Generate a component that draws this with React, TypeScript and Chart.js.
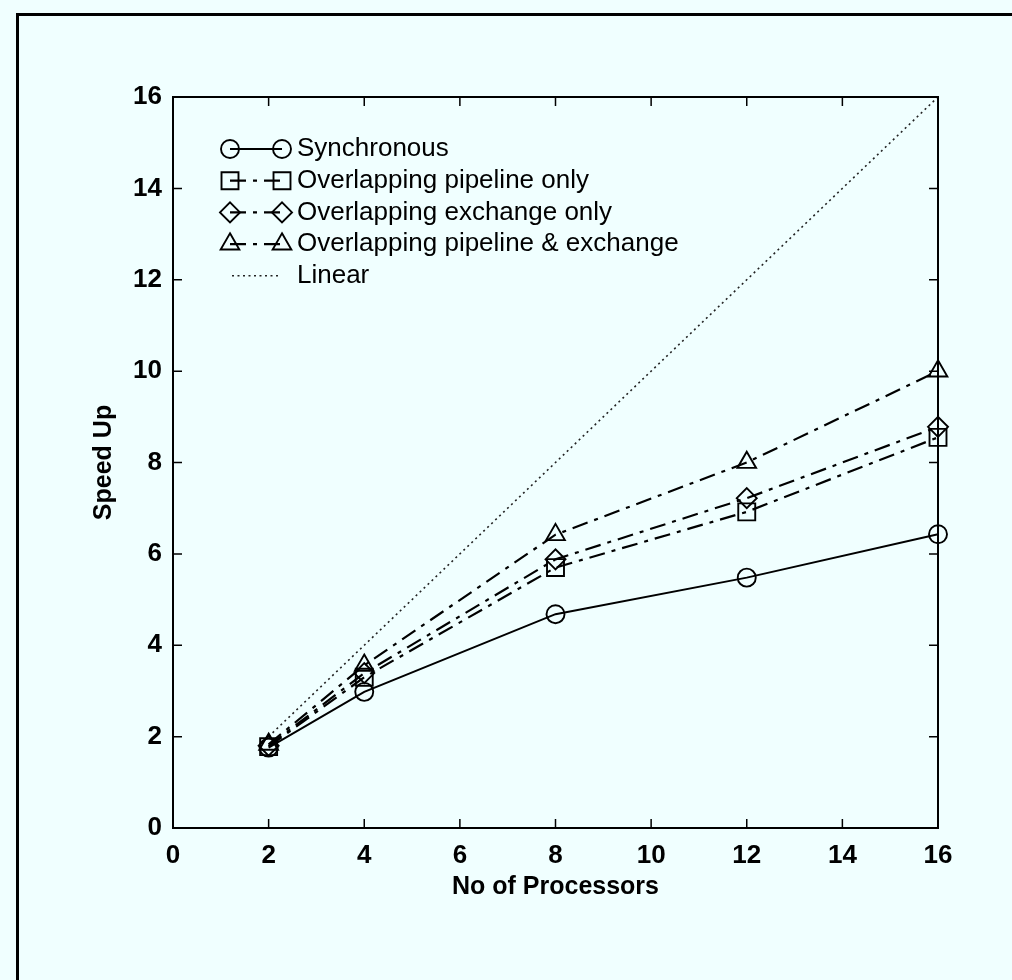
import React, { useEffect, useRef } from 'react';
import { Chart, registerables } from 'chart.js';
import { drawPoint } from 'chart.js/helpers';

Chart.register(...registerables);

// Number of processors used in each run
const processors = [2, 4, 8, 12, 16];

// Measured speed-up for each scheme
const synchronous = [1.76, 2.98, 4.68, 5.48, 6.43];
const pipelineOnly = [1.78, 3.3, 5.7, 6.92, 8.55];
const exchangeOnly = [1.8, 3.39, 5.88, 7.22, 8.78];
const pipelineAndExchange = [1.83, 3.56, 6.42, 8.0, 10.0];
const linearSpeedUp = [2, 4, 8, 12, 16];

const seriesLabels = [
  'Synchronous',
  'Overlapping pipeline only',
  'Overlapping exchange only',
  'Overlapping pipeline & exchange',
  'Linear',
];

const axisTicks = [0, 2, 4, 6, 8, 10, 12, 14, 16];
const xTitle = 'No of Processors';
const yTitle = 'Speed Up';

const BG = '#F0FFFF';
const INK = '#000000';
const FONT = '"Liberation Sans", Arial, Helvetica, sans-serif';
const DASH_DOT = [16, 7, 4, 7];
const CLEAR = 'rgba(0,0,0,0)';

const toPoints = (ys: number[]) => processors.map((x, i) => ({ x, y: ys[i] }));

// Page frame, plot box and inward tick marks on all four sides, axis titles
const framePlugin = {
  id: 'frameAndTicks',
  beforeDraw(chart: any) {
    const { ctx, width, height } = chart;
    ctx.save();
    ctx.fillStyle = BG;
    ctx.fillRect(0, 0, width, height);
    ctx.fillStyle = INK;
    ctx.fillRect(16, 13, width - 16, 3);
    ctx.fillRect(16, 13, 3, height - 13);
    ctx.restore();
  },
  afterDraw(chart: any) {
    const { ctx, chartArea: a, scales } = chart;
    ctx.save();
    ctx.strokeStyle = INK;
    ctx.lineWidth = 2;
    ctx.strokeRect(a.left, a.top, a.right - a.left, a.bottom - a.top);
    ctx.lineWidth = 1.5;
    const len = 9;
    ctx.beginPath();
    axisTicks.forEach((v) => {
      if (v === axisTicks[0] || v === axisTicks[axisTicks.length - 1]) return;
      const px = scales.x.getPixelForValue(v);
      ctx.moveTo(px, a.bottom);
      ctx.lineTo(px, a.bottom - len);
      ctx.moveTo(px, a.top);
      ctx.lineTo(px, a.top + len);
      const py = scales.y.getPixelForValue(v);
      ctx.moveTo(a.left, py);
      ctx.lineTo(a.left + len, py);
      ctx.moveTo(a.right, py);
      ctx.lineTo(a.right - len, py);
    });
    ctx.stroke();

    ctx.fillStyle = INK;
    ctx.font = `bold 25px ${FONT}`;
    ctx.textAlign = 'center';
    ctx.textBaseline = 'middle';
    ctx.fillText(xTitle, (a.left + a.right) / 2, a.bottom + 59);
    ctx.translate(a.left - 69, (a.top + a.bottom) / 2);
    ctx.rotate(-Math.PI / 2);
    ctx.fillText(yTitle, 0, 0);
    ctx.restore();
  },
};

// Key in the upper-left corner of the plot: marker, line, marker, label
const keyPlugin = {
  id: 'seriesKey',
  afterDatasetsDraw(chart: any) {
    const { ctx, chartArea: a } = chart;
    const x1 = a.left + 57;
    const x2 = a.left + 109;
    const tx = a.left + 124;
    chart.data.datasets.forEach((ds: any, i: number) => {
      const y = a.top + 52 + i * 31.7;
      ctx.save();
      ctx.strokeStyle = ds.borderColor;
      ctx.lineWidth = ds.borderWidth;
      ctx.setLineDash(ds.borderDash || []);
      ctx.beginPath();
      if (ds.pointRadius > 0) {
        ctx.moveTo(x1, y);
        ctx.lineTo(x2, y);
      } else {
        ctx.moveTo(x1 + 2, y);
        ctx.lineTo(x2 - 4, y);
      }
      ctx.stroke();
      ctx.setLineDash([]);
      if (ds.pointRadius > 0) {
        ctx.fillStyle = CLEAR;
        ctx.strokeStyle = INK;
        ctx.lineWidth = ds.pointBorderWidth;
        const opts = {
          pointStyle: ds.pointStyle,
          radius: ds.pointRadius,
          borderWidth: ds.pointBorderWidth,
          rotation: 0,
        };
        drawPoint(ctx, opts as any, x1, y);
        drawPoint(ctx, opts as any, x2, y);
      }
      ctx.fillStyle = INK;
      ctx.font = `26px ${FONT}`;
      ctx.textAlign = 'left';
      ctx.textBaseline = 'middle';
      ctx.fillText(ds.label, tx, y);
      ctx.restore();
    });
  },
};

export default function App() {
  const canvasRef = useRef<HTMLCanvasElement | null>(null);

  useEffect(() => {
    if (!canvasRef.current) return;
    const marker = (style: string, radius: number) => ({
      pointStyle: style,
      pointRadius: radius,
      pointHoverRadius: radius,
      pointBorderWidth: 1.9,
      pointBorderColor: INK,
      pointBackgroundColor: CLEAR,
    });
    const chart = new Chart(canvasRef.current, {
      type: 'line',
      data: {
        datasets: [
          {
            label: seriesLabels[0],
            data: toPoints(synchronous),
            borderColor: INK,
            borderWidth: 2,
            ...marker('circle', 9),
          },
          {
            label: seriesLabels[1],
            data: toPoints(pipelineOnly),
            borderColor: INK,
            borderWidth: 2.2,
            borderDash: DASH_DOT,
            ...marker('rect', 12),
          },
          {
            label: seriesLabels[2],
            data: toPoints(exchangeOnly),
            borderColor: INK,
            borderWidth: 2.2,
            borderDash: DASH_DOT,
            ...marker('rectRot', 10),
          },
          {
            label: seriesLabels[3],
            data: toPoints(pipelineAndExchange),
            borderColor: INK,
            borderWidth: 2.2,
            borderDash: DASH_DOT,
            ...marker('triangle', 10.8),
          },
          {
            label: seriesLabels[4],
            data: toPoints(linearSpeedUp),
            borderColor: '#222222',
            borderWidth: 1.6,
            borderDash: [2, 3.5],
            pointRadius: 0,
            pointHoverRadius: 0,
          },
        ] as any,
      },
      options: {
        responsive: false,
        animation: false,
        events: [],
        layout: { padding: { left: 0, right: 74, top: 97, bottom: 0 } },
        datasets: { line: { clip: false as any, tension: 0, fill: false } },
        plugins: {
          legend: { display: false },
          tooltip: { enabled: false },
          title: { display: false },
        },
        scales: {
          x: {
            type: 'linear',
            min: 0,
            max: 16,
            afterFit: (s: any) => {
              s.height = 152;
            },
            afterBuildTicks: (s: any) => {
              s.ticks = axisTicks.map((v) => ({ value: v }));
            },
            grid: { display: false, drawTicks: false },
            border: { display: false },
            ticks: {
              color: INK,
              padding: 12,
              maxRotation: 0,
              font: { family: FONT, size: 26, weight: 'bold' },
            },
          },
          y: {
            type: 'linear',
            min: 0,
            max: 16,
            afterFit: (s: any) => {
              s.width = 173;
            },
            afterBuildTicks: (s: any) => {
              s.ticks = axisTicks.map((v) => ({ value: v }));
            },
            grid: { display: false, drawTicks: false },
            border: { display: false },
            ticks: {
              color: INK,
              padding: 11,
              font: { family: FONT, size: 26, weight: 'bold' },
            },
          },
        },
      },
      plugins: [framePlugin, keyPlugin],
    });
    return () => chart.destroy();
  }, []);

  return (
    <div
      style={{
        position: 'fixed',
        left: 0,
        top: 0,
        width: 1012,
        height: 980,
        background: BG,
      }}
    >
      <canvas ref={canvasRef} width={1012} height={980} style={{ display: 'block' }} />
    </div>
  );
}
